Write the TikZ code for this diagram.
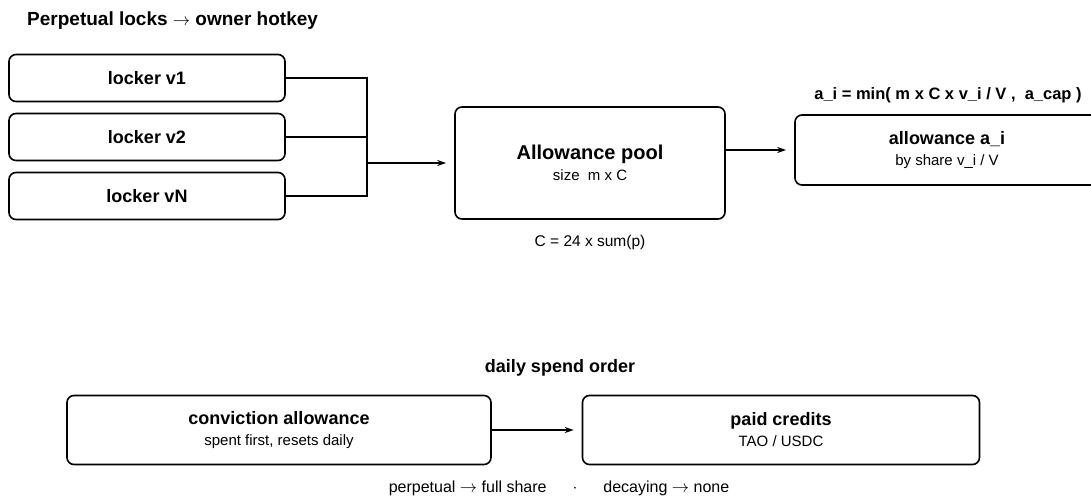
\documentclass[tikz,border=0pt]{standalone}
\usepackage{fontspec}
\setmainfont{Liberation Sans}
\usetikzlibrary{arrows.meta,calc}

\begin{document}
\begin{tikzpicture}[x=1pt,y=-1pt,
  box/.style={draw,line width=1.6pt,rounded corners=7pt,inner sep=0pt,
    align=center,font=\fontsize{15}{21}\selectfont},
  head/.style={font=\fontsize{18}{18}\selectfont\bfseries},
  note/.style={font=\fontsize{15.5}{15.5}\selectfont},
  wire/.style={line width=1.6pt,line join=miter},
  link/.style={wire,-{Stealth[length=9pt,width=6pt]},shorten >=8pt}]
\useasboundingbox (0,0) rectangle (1091,500);

% upper part: locks into the pool
\node[font=\fontsize{19}{19}\selectfont\bfseries,anchor=base west,inner sep=0pt] (title) at (27,26)
  {Perpetual locks $\rightarrow$ owner hotkey};

\foreach \name/\lbl/\y in {lv1/v1/78,lv2/v2/137,lvN/vN/196}
  \node[box,minimum width=276pt,minimum height=47pt] (\name) at (147,\y)
    {\fontsize{18}{18}\selectfont\bfseries locker \lbl};

\node[box,minimum width=270pt,minimum height=112pt] (pool) at (590,163)
  {{\fontsize{20}{23}\selectfont\bfseries Allowance pool}\\ size\ \ m x C};
\node[note] (csize) at (590,242) {C = 24 x sum(p)};

\coordinate (jn) at (367,163);
\foreach \name in {lv1,lv2,lvN}
  \draw[wire] (\name.east) -| (jn);
\draw[link] (jn) -- (pool.west);

\node[box,minimum width=304pt,minimum height=70pt] (alloc) at (947,150)
  {{\fontsize{18}{20}\selectfont\bfseries allowance a\_i}\\ by share v\_i / V};
\node[font=\fontsize{16.5}{16.5}\selectfont\bfseries] (formula) at (948,95)
  {a\_i = min( m x C x v\_i / V ,\ \ a\_cap )};
\draw[link] (pool.east |- alloc.west) -- (alloc.west);

% lower part: spend order
\node[head] (order) at (560,368) {daily spend order};

\node[box,minimum width=424pt,minimum height=69pt] (conv) at (279,430)
  {{\fontsize{18}{21}\selectfont\bfseries conviction allowance}\\ spent first, resets daily};
\node[box,minimum width=397pt,minimum height=69pt] (paid) at (781,430)
  {{\fontsize{18}{21}\selectfont\bfseries paid credits}\\ TAO / USDC};
\draw[link] (conv.east) -- (paid.west);

\node[font=\fontsize{16}{16}\selectfont] (rule) at (559,488)
  {perpetual $\rightarrow$ full share\hspace{26pt}$\cdot$\hspace{26pt}decaying $\rightarrow$ none};

\end{tikzpicture}
\end{document}
